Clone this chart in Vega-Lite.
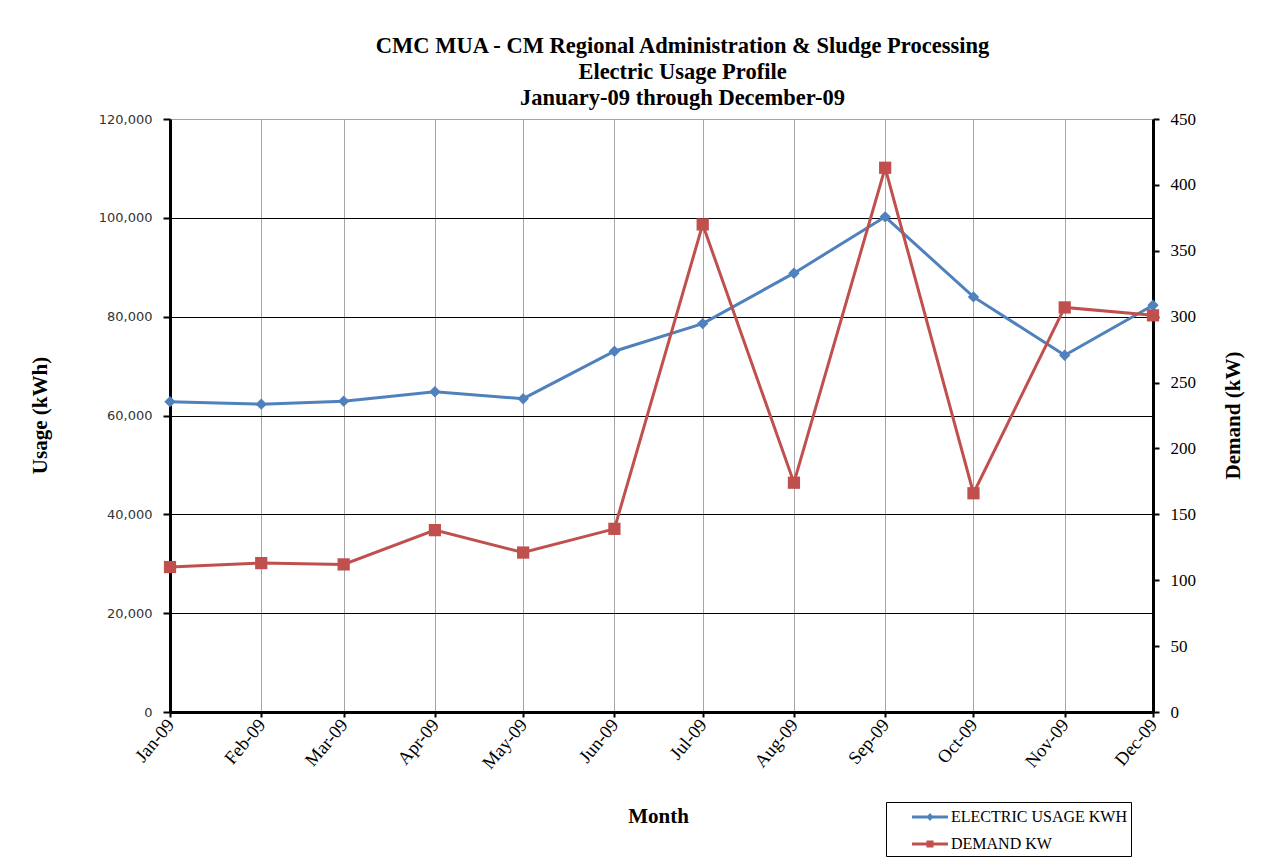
{
  "$schema": "https://vega.github.io/schema/vega-lite/v6.json",
  "width": 983,
  "height": 593,
  "autosize": {"type": "none"},
  "padding": {"left": 170, "top": 119, "right": 113, "bottom": 147},
  "background": "white",
  "config": {"view": {"stroke": null}},
  "title": {
    "text": ["CMC MUA - CM Regional Administration & Sludge Processing", "Electric Usage Profile", "January-09 through December-09"],
    "font": "Liberation Serif",
    "fontSize": 22.5,
    "fontWeight": "bold",
    "lineHeight": 26,
    "color": "black",
    "anchor": "middle",
    "frame": "group",
    "dx": 21,
    "offset": 1
  },
  "data": {
    "values": [
      {"month": "2009-01-01T00:00:00", "usage": 62800, "demand": 110},
      {"month": "2009-02-01T00:00:00", "usage": 62300, "demand": 113},
      {"month": "2009-03-01T00:00:00", "usage": 62900, "demand": 112},
      {"month": "2009-04-01T00:00:00", "usage": 64800, "demand": 138},
      {"month": "2009-05-01T00:00:00", "usage": 63400, "demand": 121},
      {"month": "2009-06-01T00:00:00", "usage": 73000, "demand": 139},
      {"month": "2009-07-01T00:00:00", "usage": 78600, "demand": 370},
      {"month": "2009-08-01T00:00:00", "usage": 88800, "demand": 174},
      {"month": "2009-09-01T00:00:00", "usage": 100200, "demand": 413},
      {"month": "2009-10-01T00:00:00", "usage": 84000, "demand": 166},
      {"month": "2009-11-01T00:00:00", "usage": 72200, "demand": 307},
      {"month": "2009-12-01T00:00:00", "usage": 82300, "demand": 301}
    ]
  },
  "encoding": {
    "x": {
      "field": "month",
      "type": "temporal",
      "scale": {"domain": [{"year": 2009, "month": 1, "date": 1}, {"year": 2009, "month": 12, "date": 1}], "nice": false},
      "axis": {
        "title": "Month",
        "format": "%b-%y",
        "tickCount": {"interval": "month", "step": 1},
        "labelAngle": -50,
        "labelFont": "Liberation Serif",
        "labelFontSize": 18.5,
        "labelColor": "black",
        "labelPadding": 4,
        "labelOverlap": false,
        "labelFlush": false,
        "labelBound": false,
        "grid": true,
        "gridColor": "#A6A6A6",
        "gridWidth": 1,
        "domainColor": "black",
        "domainWidth": 3,
        "tickColor": "black",
        "tickWidth": 2,
        "tickSize": 5,
        "titleFont": "Liberation Serif",
        "titleFontSize": 21,
        "titleFontWeight": "bold",
        "titleColor": "black",
        "titleX": 488,
        "titleY": 104,
        "titleAlign": "center",
        "titleBaseline": "middle"
      }
    }
  },
  "layer": [
    {
      "mark": {"type": "line", "strokeWidth": 3, "point": {"shape": "diamond", "filled": true, "size": 130, "color": "#4F81BD", "opacity": 1}},
      "encoding": {
        "y": {
          "field": "usage",
          "type": "quantitative",
          "scale": {"domain": [0, 120000], "nice": false},
          "axis": {
            "title": "Usage (kWh)",
            "orient": "left",
            "values": [0, 20000, 40000, 60000, 80000, 100000, 120000],
            "format": ",.0f",
            "labelFont": "DejaVu Sans",
            "labelFontSize": 13,
            "labelColor": "#333333",
            "labelPadding": 11,
            "grid": true,
            "gridColor": {"condition": {"test": "datum.value === 120000", "value": "#A6A6A6"}, "value": "black"},
            "gridWidth": 1,
            "domainColor": "black",
            "domainWidth": 3,
            "tickColor": "black",
            "tickWidth": 2,
            "tickSize": 7,
            "titleFont": "Liberation Serif",
            "titleFontSize": 21,
            "titleFontWeight": "bold",
            "titleColor": "black",
            "titleX": -130,
            "titleY": 296,
            "titleAngle": -90,
            "titleAlign": "center",
            "titleBaseline": "middle"
          }
        },
        "color": {
          "datum": "ELECTRIC USAGE KWH",
          "type": "nominal",
          "scale": {"domain": ["ELECTRIC USAGE KWH", "DEMAND KW"], "range": ["#4F81BD", "#C0504D"]},
          "legend": {
            "orient": "none",
            "legendX": 716,
            "legendY": 683,
            "title": null,
            "strokeColor": "black",
            "fillColor": "white",
            "padding": 4,
            "symbolOffset": 29,
            "labelFont": "Liberation Serif",
            "labelFontSize": 16,
            "labelColor": "black",
            "labelOffset": 10,
            "labelLimit": 400,
            "symbolSize": 484,
            "rowPadding": 8,
            "encode": {
              "symbols": {
                "update": {
                  "shape": {"signal": "datum.value === 'DEMAND KW' ? 'M-1.64,-0.14H-0.32V-0.32H0.32V-0.14H1.64V0.14H0.32V0.32H-0.32V0.14H-1.64Z' : 'M-1.64,-0.14H-0.2L0,-0.36L0.2,-0.14H1.64V0.14H0.2L0,0.36L-0.2,0.14H-1.64Z'"},
                  "fill": {"scale": "color", "field": "value"},
                  "stroke": {"value": "transparent"},
                  "strokeWidth": {"value": 0},
                  "opacity": {"value": 1}
                }
              }
            }
          }
        }
      }
    },
    {
      "mark": {"type": "line", "strokeWidth": 3, "point": {"shape": "square", "filled": true, "size": 150, "color": "#C0504D", "opacity": 1}},
      "encoding": {
        "y": {
          "field": "demand",
          "type": "quantitative",
          "scale": {"domain": [0, 450], "nice": false},
          "axis": {
            "title": "Demand (kW)",
            "orient": "right",
            "values": [0, 50, 100, 150, 200, 250, 300, 350, 400, 450],
            "labelFont": "Liberation Serif",
            "labelFontSize": 17,
            "labelColor": "black",
            "labelPadding": 11,
            "grid": false,
            "domainColor": "black",
            "domainWidth": 3,
            "tickColor": "black",
            "tickWidth": 2,
            "tickSize": 6,
            "titleFont": "Liberation Serif",
            "titleFontSize": 21,
            "titleFontWeight": "bold",
            "titleColor": "black",
            "titleX": 80,
            "titleY": 296,
            "titleAngle": -90,
            "titleAlign": "center",
            "titleBaseline": "middle"
          }
        },
        "color": {"datum": "DEMAND KW", "type": "nominal"}
      }
    }
  ],
  "resolve": {"scale": {"y": "independent"}}
}
